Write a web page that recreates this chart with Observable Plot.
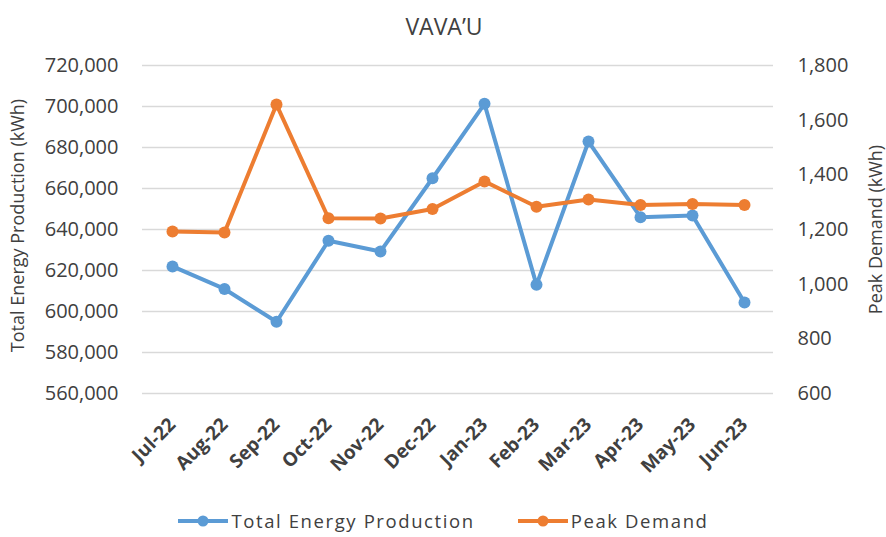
<!DOCTYPE html>
<html>
<head>
<meta charset="utf-8">
<script src="https://cdn.jsdelivr.net/npm/d3@7"></script>
<script src="https://cdn.jsdelivr.net/npm/@observablehq/plot@0.6"></script>
<style>
  html, body { margin: 0; padding: 0; background: #fff; }
  #wrap { position: relative; width: 886px; height: 537px; font-family: "Open Sans", sans-serif; }
  #legend { position: absolute; top: 508px; left: 0; width: 886px; display: flex; justify-content: center; gap: 42px; font-size: 18.5px; letter-spacing: 1.6px; color: #404040; }
  #legend .item { display: flex; align-items: center; gap: 2px; }
</style>
</head>
<body>
<div id="wrap">
  <div id="chart"></div>
  <div id="legend"></div>
</div>
<script>
const months = ["Jul-22","Aug-22","Sep-22","Oct-22","Nov-22","Dec-22","Jan-23","Feb-23","Mar-23","Apr-23","May-23","Jun-23"];
const energyProduction = [622000, 611000, 595000, 634500, 629300, 665000, 701300, 613000, 682900, 646000, 646800, 604400];
const peakDemand = [1193, 1189, 1657, 1241, 1240, 1275, 1376, 1283, 1310, 1290, 1293, 1290];
const leftTicks = [560000, 580000, 600000, 620000, 640000, 660000, 680000, 700000, 720000];
const rightTicks = [600, 800, 1000, 1200, 1400, 1600, 1800];
const seriesNames = ["Total Energy Production", "Peak Demand"];
const colors = ["#5B9BD5", "#ED7D31"];

// map right-axis values onto the left scale
const toLeft = v => 560000 + (v - 600) * (160000 / 1200);
const fromLeft = y => 600 + (y - 560000) * (1200 / 160000);

const prodData = months.map((m, i) => ({month: m, y: energyProduction[i]}));
const demandData = months.map((m, i) => ({month: m, y: toLeft(peakDemand[i])}));

const txt = "#404040";
const plot = Plot.plot({
  width: 886,
  height: 537,
  marginTop: 65,
  marginBottom: 144,
  marginLeft: 142,
  marginRight: 113,
  style: {fontFamily: "'Open Sans', sans-serif", fontSize: "17px", color: txt, background: "#fff"},
  x: {type: "point", domain: months, padding: 0.5},
  y: {domain: [560000, 720000]},
  marks: [
    Plot.gridY(leftTicks, {stroke: "#d9d9d9", strokeOpacity: 1, strokeWidth: 1.5}),
    Plot.axisY(leftTicks, {anchor: "left", tickSize: 0, tickPadding: 24, tickFormat: d3.format(","), label: null, fontSize: 20, fill: txt, style: {letterSpacing: "2.2px"}}),
    Plot.axisY(rightTicks.map(toLeft), {anchor: "right", tickSize: 0, tickPadding: 24, tickFormat: d => d3.format(",")(Math.round(fromLeft(d))), label: null, fontSize: 20, fill: txt, style: {letterSpacing: "2.2px"}}),
    Plot.axisX({tickSize: 0, tickRotate: -45, tickPadding: 8, dy: 20, dx: 0, label: null, fontSize: 19, fontWeight: "bold", fill: txt, style: {letterSpacing: "1px"}}),
    Plot.line(prodData, {x: "month", y: "y", stroke: colors[0], strokeWidth: 4}),
    Plot.dot(prodData, {x: "month", y: "y", r: 6, fill: colors[0]}),
    Plot.line(demandData, {x: "month", y: "y", stroke: colors[1], strokeWidth: 4}),
    Plot.dot(demandData, {x: "month", y: "y", r: 6, fill: colors[1]}),
    Plot.text(["VAVA\u2019U"], {frameAnchor: "top", dx: -14, dy: -47, fontSize: 23, fill: txt, style: {letterSpacing: "3px"}}),
    Plot.text(["Total Energy Production (kWh)"], {frameAnchor: "left", textAnchor: "middle", dx: -124, dy: -4, rotate: -90, fontSize: 18, fill: txt, style: {letterSpacing: "0.9px"}}),
    Plot.text(["Peak Demand (kWh)"], {frameAnchor: "right", textAnchor: "middle", dx: 103, rotate: -90, fontSize: 18, fill: txt, style: {letterSpacing: "1.6px"}})
  ]
});
document.getElementById("chart").appendChild(plot);

const legend = document.getElementById("legend");
seriesNames.forEach((name, i) => {
  const item = document.createElement("div");
  item.className = "item";
  item.innerHTML = `<svg width="52" height="14"><line x1="1" y1="7" x2="51" y2="7" stroke="${colors[i]}" stroke-width="4"/><circle cx="26" cy="7" r="5.5" fill="${colors[i]}"/></svg><span>${name}</span>`;
  legend.appendChild(item);
});
</script>
</body>
</html>
